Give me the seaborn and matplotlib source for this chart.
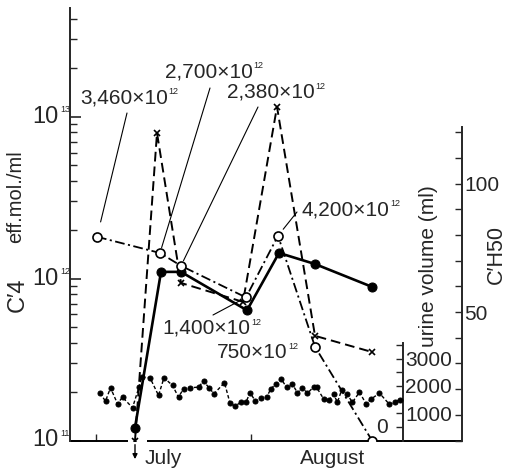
import math
import matplotlib
matplotlib.use("Agg")
import matplotlib.pyplot as plt
import seaborn as sns
from matplotlib.ticker import FixedLocator, NullFormatter, LogLocator

# Days are counted from 1 July.
c4_days = [7.8, 13.0, 17.0, 30.2, 36.6, 43.8, 55.2]
c4_values = [1.20e11, 1.10e12, 1.10e12, 6.37e11, 1.44e12, 1.23e12, 8.89e11]

cross_days = [7.8, 12.2, 17.0, 29.4, 36.2, 43.8, 55.2]
cross_values = [1.0e11, 7.93e12, 9.40e11, 7.18e11, 1.15e13, 4.43e11, 3.52e11]

ch50_days = [0.2, 12.8, 17.0, 30.0, 36.4, 43.8, 55.2]
ch50_values = [79.3, 73.0, 68.0, 55.7, 79.7, 36.5, 0.0]
ch50_notes = ["3,460", "2,700", "2,380", "1,400", "4,200", "750", "0"]

urine_days = [0.8, 1.9, 2.9, 4.3, 5.3, 7.3, 8.6, 9.1, 10.8, 12.5, 13.6, 15.3,
              16.5, 17.5, 18.8, 20.5, 21.5, 22.6, 23.6, 25.7, 26.8, 27.8, 29.0,
              30.0, 30.8, 31.9, 33.0, 34.1, 35.0, 36.0, 37.0, 38.1, 39.3, 40.3,
              41.3, 42.3, 43.5, 44.1, 45.5, 46.5, 47.5, 48.3, 49.1, 50.1, 51.3,
              52.7, 54.0, 55.1, 56.7, 58.7, 59.8, 60.9]
urine_ml = [1733, 1440, 1930, 1344, 1586, 1198, 1952, 2319, 2297, 1648, 2297,
            2015, 1586, 1894, 1930, 1952, 2172, 1930, 1711, 2114, 1366, 1256,
            1403, 1403, 1747, 1440, 1564, 1586, 1894, 2077, 2260, 1952, 2051,
            1747, 1930, 1733, 1952, 1952, 1527, 1465, 1685, 1403, 1832, 1711,
            1403, 1769, 1344, 1527, 1733, 1319, 1403, 1491]

month_names = ["July", "August"]
month_starts = [0, 31]
month_centres = [13.4, 47.3]
c4_ticks = [1e11, 1e12, 1e13]
ch50_ticks = [50, 100]
urine_ticks = [1000, 2000, 3000]

sns.set_style("ticks")
plt.rcParams["font.family"] = ["Liberation Sans", "DejaVu Sans"]
plt.rcParams["lines.scale_dashes"] = False

W, H = 505, 471
fig = plt.figure(figsize=(W / 100, H / 100), dpi=100)
x0, x1, ytop, ybot = 70, 462, 8, 440.5
ax = fig.add_axes([x0 / W, 1 - ybot / H, (x1 - x0) / W, (ybot - ytop) / H])
ax.set_yscale("log")
ax.set_xlim(-5.2, 73.2)
ax.set_ylim(1e11, 10 ** 13.671)

k = "black"


def power_label(base_text, exponent, sup_size, xy, **kw):
    """Draw base_text followed by a small raised exponent."""
    art = ax.text(*xy, base_text, **kw)
    ax.annotate(exponent, xy=(1, 1), xycoords=art, xytext=(0.6, 0.5),
                textcoords="offset points", ha="left", va="top",
                fontsize=sup_size, annotation_clip=False)
    return art


# C'4 (solid, filled circles) and the second C'4 series (dashed, crosses)
sns.lineplot(x=c4_days, y=c4_values, ax=ax, color=k, lw=1.9, marker="o",
             ms=6.5, mfc=k, mec=k, zorder=4)
sns.lineplot(x=cross_days, y=cross_values, ax=ax, color=k, lw=1.4,
             linestyle=(0, (7, 3.6)), marker="x", ms=5, mew=1.2, mec=k,
             zorder=3)
# value below the scale: arrow pointing down from the axis
ax.annotate("", xy=(cross_days[0], 10 ** 10.885), xytext=(cross_days[0], cross_values[0]),
            arrowprops=dict(arrowstyle="-|>", lw=1.0, color=k, shrinkA=3,
                            shrinkB=0, mutation_scale=7),
            annotation_clip=False)

for side in ("top", "right", "bottom"):
    ax.spines[side].set_visible(False)
ax.spines["left"].set_linewidth(1.4)
# bottom axis line, broken where the off-scale point sits
ax.plot([0, (128 - x0) / (x1 - x0)], [0, 0], transform=ax.transAxes, color=k,
        lw=1.4, clip_on=False, solid_capstyle="butt")
ax.plot([(147 - x0) / (x1 - x0), 1], [0, 0], transform=ax.transAxes, color=k,
        lw=1.4, clip_on=False, solid_capstyle="butt")

ax.yaxis.set_major_locator(FixedLocator(c4_ticks))
ax.yaxis.set_minor_locator(LogLocator(base=10, subs=range(2, 10)))
ax.yaxis.set_major_formatter(NullFormatter())
ax.yaxis.set_minor_formatter(NullFormatter())
ax.tick_params(axis="y", which="major", direction="in", length=8, width=1.2)
ax.tick_params(axis="y", which="minor", direction="in", length=5, width=1.0)
for v in c4_ticks:
    power_label("10", str(round(math.log10(v))), 6.5,
                (-(x0 - 59) / (x1 - x0), v),
                transform=ax.get_yaxis_transform(), ha="right", va="center",
                fontsize=17)

ax.xaxis.set_major_locator(FixedLocator(month_starts))
ax.xaxis.set_major_formatter(NullFormatter())
ax.tick_params(axis="x", which="major", direction="in", length=5, width=1.0)
for name, c in zip(month_names, month_centres):
    ax.text(c, -0.055, name, transform=ax.get_xaxis_transform(), ha="center",
            va="baseline", fontsize=15)

ax.text(18 / W, 1 - 295 / H, "C′4", transform=fig.transFigure,
        rotation=90, ha="center", va="center", fontsize=17)
ax.text(16 / W, 1 - 197 / H, "eff.mol./ml", transform=fig.transFigure,
        rotation=90, ha="center", va="center", fontsize=14.5)

# C'H50 (dash-dot, open circles) on the right-hand scale
ax2 = ax.twinx()
ax2.set_ylim(0, (439 - ytop) / 2.56)
sns.lineplot(x=ch50_days, y=ch50_values, ax=ax2, color=k, lw=1.3,
             linestyle=(0, (7, 2.5, 1.5, 2.5)), marker="o", ms=6.5, mfc="white",
             mec=k, mew=1.2, zorder=5)
for side in ("top", "left", "bottom"):
    ax2.spines[side].set_visible(False)
ax2.spines["right"].set_bounds(0, 122)
ax2.spines["right"].set_linewidth(1.4)
ax2.yaxis.set_major_locator(FixedLocator(ch50_ticks))
ax2.yaxis.set_minor_locator(FixedLocator([v for v in range(0, 121, 10) if v not in ch50_ticks]))
ax2.tick_params(axis="y", which="both", direction="in", length=5, width=1.0,
                pad=1.5, labelsize=15)
ax2.set_ylabel("")
ax2.text(496 / W, 1 - 255 / H, "C′H50", transform=fig.transFigure, rotation=90,
         ha="center", va="center", fontsize=15.5)

# urine volume on its own short scale
ax3 = ax.twinx()
ax3.set_ylim(0, (440 - ytop) / 27.3 * 1000)
sns.lineplot(x=urine_days, y=urine_ml, ax=ax3, color=k, lw=1.0,
             linestyle=(0, (2.5, 1.6)), marker="o", ms=3.6, mfc=k, mec=k,
             zorder=3)
for side in ("top", "left", "bottom"):
    ax3.spines[side].set_visible(False)
ax3.spines["right"].set_position(("axes", (403 - x0) / (x1 - x0)))
ax3.spines["right"].set_bounds(0, 3550)
ax3.spines["right"].set_linewidth(1.4)
ax3.yaxis.set_major_locator(FixedLocator(urine_ticks))
ax3.yaxis.set_minor_locator(FixedLocator([500, 1500, 2500, 3500]))
ax3.tick_params(axis="y", which="both", direction="in", length=5, width=1.0,
                pad=1.5, labelsize=15)
ax3.set_ylabel("")
ax3.text(428 / W, 1 - 266 / H, "urine volume (ml)", transform=fig.transFigure,
         rotation=90, ha="center", va="center", fontsize=15)

# notes on the C'H50 points, with leader lines
note_pos = [(80, 103), (165, 77), (227, 98), (162, 334), (302, 215), (217, 358), (376, 433)]
leader_from = [(127, 113), (210, 88), (258, 107), (213, 315), (297, 212), None, None]
leader_shrink = [11, 4, 4, 4, 6, 0, 0]
for note, (tx, ty), lf, sb, d, v in zip(ch50_notes, note_pos, leader_from,
                                         leader_shrink, ch50_days, ch50_values):
    if note == "0":
        ax.text(tx / W, 1 - ty / H, note, transform=fig.transFigure,
                ha="left", va="baseline", fontsize=15)
    else:
        power_label(note + "×10", "12", 6.5, (tx / W, 1 - ty / H),
                    transform=fig.transFigure, ha="left", va="baseline",
                    fontsize=15)
    if lf is not None:
        ax2.annotate("", xy=(d, v), xytext=(lf[0], H - lf[1]),
                     textcoords="figure pixels",
                     arrowprops=dict(arrowstyle="-", lw=0.8, color=k,
                                     shrinkA=0, shrinkB=sb))

fig.savefig("out.png", dpi=100)
